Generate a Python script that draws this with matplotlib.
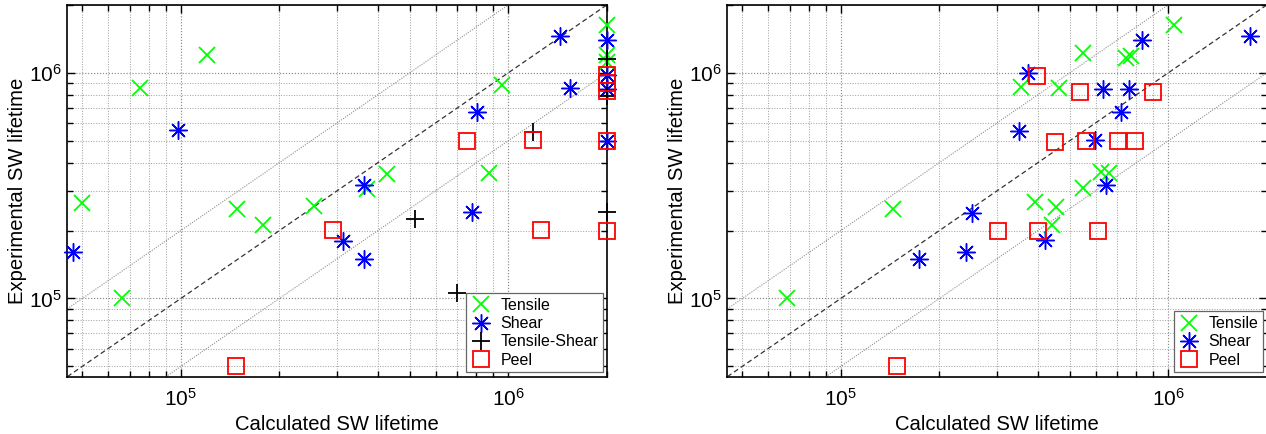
import matplotlib
matplotlib.use("Agg")
import matplotlib.pyplot as plt
import numpy as np
from matplotlib.ticker import LogLocator, NullFormatter

plt.rcParams['font.family'] = ['Liberation Sans', 'DejaVu Sans']

# ---------------- data ----------------
axis_limits = [4.5e4, 2e6]
ratio_lines = [0.5, 1.0, 2.0]

# left panel
L_tensile_x = [5.0e4, 6.6e4, 7.5e4, 1.2e5, 1.48e5, 1.78e5, 2.56e5, 3.7e5, 4.25e5, 8.75e5, 9.55e5, 2e6, 2e6, 2e6]
L_tensile_y = [2.65e5, 1.0e5, 8.6e5, 1.2e6, 2.49e5, 2.12e5, 2.56e5, 3.06e5, 3.58e5, 3.6e5, 8.87e5, 1.63e6, 1.2e6, 1.12e6]

L_shear_x = [4.7e4, 9.8e4, 3.13e5, 3.64e5, 3.64e5, 7.76e5, 8.04e5, 1.44e6, 1.55e6, 2e6, 2e6, 2e6, 2e6]
L_shear_y = [1.61e5, 5.58e5, 1.79e5, 3.17e5, 1.5e5, 2.41e5, 6.68e5, 1.46e6, 8.6e5, 1.4e6, 9.8e5, 8.45e5, 5.0e5]

L_ts_x = [5.2e5, 6.98e5, 1.19e6, 2e6, 2e6, 2e6]
L_ts_y = [2.25e5, 1.06e5, 5.46e5, 1.15e6, 7.87e5, 2.42e5]

L_peel_x = [1.47e5, 2.91e5, 7.46e5, 1.19e6, 1.26e6, 2e6, 2e6, 2e6, 2e6, 2e6]
L_peel_y = [5.02e4, 2.02e5, 4.98e5, 5.03e5, 2.01e5, 9.8e5, 9.0e5, 8.3e5, 5.0e5, 2.0e5]

# right panel
R_tensile_x = [6.85e4, 1.44e5, 3.56e5, 3.93e5, 4.41e5, 4.54e5, 4.64e5, 5.5e5, 5.48e5, 6.25e5, 6.58e5, 7.45e5, 7.7e5, 1.04e6]
R_tensile_y = [1.0e5, 2.5e5, 8.7e5, 2.67e5, 2.12e5, 2.54e5, 8.6e5, 1.23e6, 3.09e5, 3.63e5, 3.6e5, 1.16e6, 1.19e6, 1.63e6]

R_shear_x = [1.73e5, 2.42e5, 2.51e5, 3.51e5, 3.73e5, 4.2e5, 5.97e5, 6.32e5, 6.44e5, 7.2e5, 7.6e5, 8.34e5, 1.78e6]
R_shear_y = [1.5e5, 1.61e5, 2.39e5, 5.52e5, 1.0e6, 1.81e5, 5.02e5, 8.48e5, 3.17e5, 6.68e5, 8.48e5, 1.4e6, 1.46e6]

R_peel_x = [1.48e5, 3.03e5, 3.97e5, 3.99e5, 4.5e5, 5.37e5, 5.62e5, 6.12e5, 7.03e5, 7.9e5, 8.96e5]
R_peel_y = [5.0e4, 2.0e5, 9.67e5, 2.0e5, 4.95e5, 8.24e5, 4.99e5, 2.0e5, 5.0e5, 5.0e5, 8.24e5]

x_label = "Calculated SW lifetime"
y_label = "Experimental SW lifetime"

# ---------------- styles ----------------
GREEN = '#00ff00'
BLUE = '#0000ff'
RED = '#ff0000'
style_tensile = dict(marker='x', color=GREEN, markersize=11.5, mew=1.3, linestyle='none')
style_shear = dict(marker=(8, 2, 0), color=BLUE, markersize=13, mew=1.05, linestyle='none')
style_ts = dict(marker='+', color='black', markersize=12.5, mew=1.3, linestyle='none')
style_peel = dict(marker='s', mfc='none', mec=RED, markersize=11.5, mew=1.3, linestyle='none')

fig = plt.figure(figsize=(12.66, 4.34), dpi=100)
ax_w = 539.4 / 1266
ax_h = 371.7 / 434
ax_b = (434 - 376.7) / 434
axL = fig.add_axes([67.3 / 1266, ax_b, ax_w, ax_h])
axR = fig.add_axes([727.3 / 1266, ax_b, ax_w, ax_h])


def setup(ax):
    ax.set_xscale('log')
    ax.set_yscale('log')
    ax.set_xlim(axis_limits)
    ax.set_ylim(axis_limits)
    ax.xaxis.set_major_locator(LogLocator(base=10, numticks=10))
    ax.yaxis.set_major_locator(LogLocator(base=10, numticks=10))
    ax.xaxis.set_minor_locator(LogLocator(base=10, subs=np.arange(2, 10), numticks=20))
    ax.yaxis.set_minor_locator(LogLocator(base=10, subs=np.arange(2, 10), numticks=20))
    ax.xaxis.set_minor_formatter(NullFormatter())
    ax.yaxis.set_minor_formatter(NullFormatter())
    ax.grid(True, which='major', linestyle=(0, (1, 1.5)), color='#8a8a8a', linewidth=0.85)
    ax.grid(True, which='minor', linestyle=(0, (1, 1.5)), color='#a6a6a6', linewidth=0.75)
    ax.set_axisbelow(True)
    ax.tick_params(which='both', direction='in', top=True, right=True, width=1.0, colors='black')
    ax.tick_params(which='major', length=6, labelsize=15)
    ax.tick_params(which='minor', length=4)
    ax.tick_params(axis='x', which='major', pad=8)
    ax.tick_params(axis='y', which='major', pad=4)
    for s in ax.spines.values():
        s.set_linewidth(1.2)
    lo, hi = axis_limits
    xs = np.array([lo, hi])
    for r in ratio_lines:
        if r == 1.0:
            ax.plot(xs, xs * r, linestyle=(0, (4, 2.5)), color='#333333', linewidth=0.9, zorder=1.5)
        else:
            ax.plot(xs, xs * r, linestyle=(0, (1, 1.2)), color='#909090', linewidth=0.8, zorder=1.5)
    ax.set_xlabel(x_label, fontsize=14.6, labelpad=4)
    ax.set_ylabel(y_label, fontsize=14.6)
    ax.yaxis.set_label_coords(-(67.3 - 27.0) / 539.4, 0.5)


setup(axL)
setup(axR)

axL.plot(L_tensile_x, L_tensile_y, label='Tensile', clip_on=False, zorder=3, **style_tensile)
axL.plot(L_shear_x, L_shear_y, label='Shear', clip_on=False, zorder=3, **style_shear)
axL.plot(L_ts_x, L_ts_y, label='Tensile-Shear', clip_on=False, zorder=3, **style_ts)
axL.plot(L_peel_x, L_peel_y, label='Peel', clip_on=False, zorder=3, **style_peel)

axR.plot(R_tensile_x, R_tensile_y, label='Tensile', clip_on=False, zorder=3, **style_tensile)
axR.plot(R_shear_x, R_shear_y, label='Shear', clip_on=False, zorder=3, **style_shear)
axR.plot(R_peel_x, R_peel_y, label='Peel', clip_on=False, zorder=3, **style_peel)

leg_kw = dict(loc='lower right', fontsize=11.5, numpoints=1, handlelength=1.3,
              handletextpad=0.55, borderpad=0.3, labelspacing=0.2, fancybox=False,
              framealpha=1, edgecolor='#666666', borderaxespad=0)
legL = axL.legend(bbox_to_anchor=(0.9937, 0.0118), **leg_kw)
legR = axR.legend(bbox_to_anchor=(0.9937, 0.0118), **leg_kw)
for lg in (legL, legR):
    lg.get_frame().set_linewidth(0.9)
    lg.set_zorder(5)

fig.savefig('out.png', dpi=100, facecolor='white')
